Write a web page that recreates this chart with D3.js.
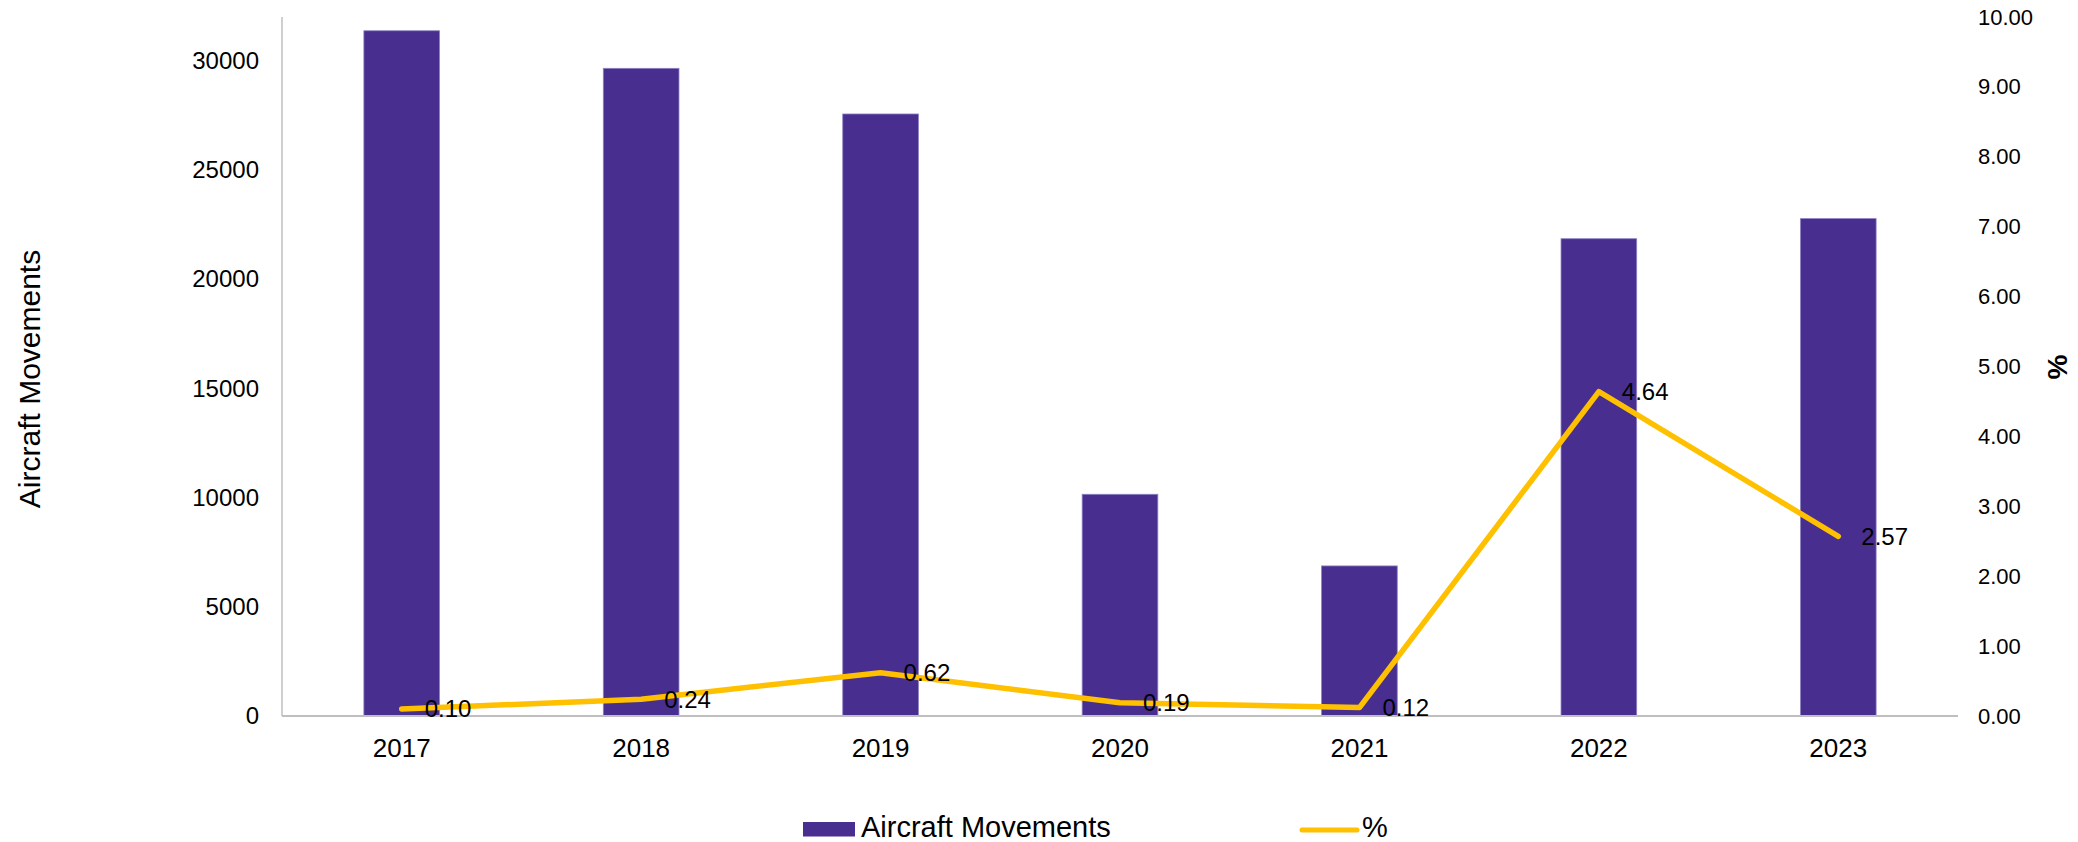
<!DOCTYPE html>
<html>
<head>
<meta charset="utf-8">
<script src="https://cdn.jsdelivr.net/npm/d3@7"></script>
<style>
  html, body { margin: 0; padding: 0; background: #ffffff; }
  svg { display: block; font-family: "Liberation Sans", Arial, sans-serif; }
</style>
</head>
<body>
<svg id="chart" width="2078" height="842"></svg>
<script>
// ---- data ----
const years = ["2017", "2018", "2019", "2020", "2021", "2022", "2023"];
const movements = [31370, 29650, 27560, 10150, 6870, 21850, 22770];
const percent = [0.10, 0.24, 0.62, 0.19, 0.12, 4.64, 2.57];
const leftTicks = [0, 5000, 10000, 15000, 20000, 25000, 30000];
const rightTicks = [0, 1, 2, 3, 4, 5, 6, 7, 8, 9, 10];
const seriesNames = ["Aircraft Movements", "%"];

// ---- layout ----
const plot = { left: 282, right: 1958, top: 17, bottom: 716 };
const barColor = "#482E8E";
const lineColor = "#FFC000";

const svg = d3.select("#chart");

const x = d3.scaleBand().domain(years).range([plot.left, plot.right]).paddingInner(0.684).paddingOuter(0.342);
const yL = d3.scaleLinear().domain([0, 32000]).range([plot.bottom, plot.top]);
const yR = d3.scaleLinear().domain([0, 10]).range([plot.bottom, plot.top]);
const xc = d => x(d) + x.bandwidth() / 2;

// bars
svg.append("g").selectAll("rect").data(years).join("rect")
  .attr("x", d => x(d))
  .attr("y", (d, i) => yL(movements[i]))
  .attr("width", x.bandwidth())
  .attr("height", (d, i) => yL(0) - yL(movements[i]))
  .attr("fill", barColor)
  .attr("stroke", "#8C80C4")
  .attr("stroke-width", 0.8);

// left axis
const gL = svg.append("g").attr("transform", `translate(${plot.left},0)`)
  .call(d3.axisLeft(yL).tickValues(leftTicks).tickSize(0).tickPadding(23).tickFormat(d3.format("d")));
gL.select(".domain").remove();
gL.selectAll("text").attr("font-size", 24).attr("fill", "#000").attr("font-family", "Liberation Sans, Arial, sans-serif");
svg.append("line").attr("x1", plot.left).attr("x2", plot.left).attr("y1", plot.top).attr("y2", plot.bottom)
  .attr("stroke", "#BFBFBF").attr("stroke-width", 1.5);

// right axis
const gR = svg.append("g").attr("transform", `translate(${plot.right},0)`)
  .call(d3.axisRight(yR).tickValues(rightTicks).tickSize(0).tickPadding(20).tickFormat(d3.format(".2f")));
gR.select(".domain").remove();
gR.selectAll("text").attr("font-size", 22).attr("fill", "#000").attr("font-family", "Liberation Sans, Arial, sans-serif");

// bottom axis
const gB = svg.append("g").attr("transform", `translate(0,${plot.bottom})`)
  .call(d3.axisBottom(x).tickSize(0).tickPadding(0));
gB.select(".domain").remove();
gB.selectAll("text").attr("font-size", 26).attr("fill", "#000").attr("dy", null)
  .attr("y", 41).attr("font-family", "Liberation Sans, Arial, sans-serif");
svg.append("line").attr("x1", plot.left).attr("x2", plot.right).attr("y1", plot.bottom).attr("y2", plot.bottom)
  .attr("stroke", "#BFBFBF").attr("stroke-width", 2);

// line series
const line = d3.line().x((d, i) => xc(years[i])).y(d => yR(d));
svg.append("path").datum(percent)
  .attr("d", line).attr("fill", "none").attr("stroke", lineColor)
  .attr("stroke-width", 5.5).attr("stroke-linejoin", "round").attr("stroke-linecap", "round");

// data labels
svg.append("g").selectAll("text").data(percent).join("text")
  .attr("x", (d, i) => xc(years[i]) + 23)
  .attr("y", d => yR(d))
  .attr("dy", "0.35em")
  .attr("font-size", 24)
  .attr("fill", "#000")
  .text(d => d3.format(".2f")(d));

// axis titles
svg.append("text").attr("transform", "translate(40,379) rotate(-90)")
  .attr("text-anchor", "middle").attr("font-size", 30).attr("fill", "#000").text("Aircraft Movements");
svg.append("text").attr("transform", "translate(2057,367) rotate(-90)")
  .attr("text-anchor", "middle").attr("dy", "0.35em").attr("font-size", 28).attr("font-weight", "bold")
  .attr("fill", "#000").text("%");

// legend
const lg = svg.append("g");
lg.append("rect").attr("x", 803).attr("y", 822).attr("width", 52).attr("height", 14.5).attr("fill", barColor);
lg.append("text").attr("x", 861).attr("y", 837).attr("font-size", 29).attr("fill", "#000").text(seriesNames[0]);
lg.append("line").attr("x1", 1302).attr("x2", 1357).attr("y1", 830).attr("y2", 830)
  .attr("stroke", lineColor).attr("stroke-width", 5).attr("stroke-linecap", "round");
lg.append("text").attr("x", 1362).attr("y", 837).attr("font-size", 29).attr("fill", "#000").text(seriesNames[1]);
</script>
</body>
</html>
